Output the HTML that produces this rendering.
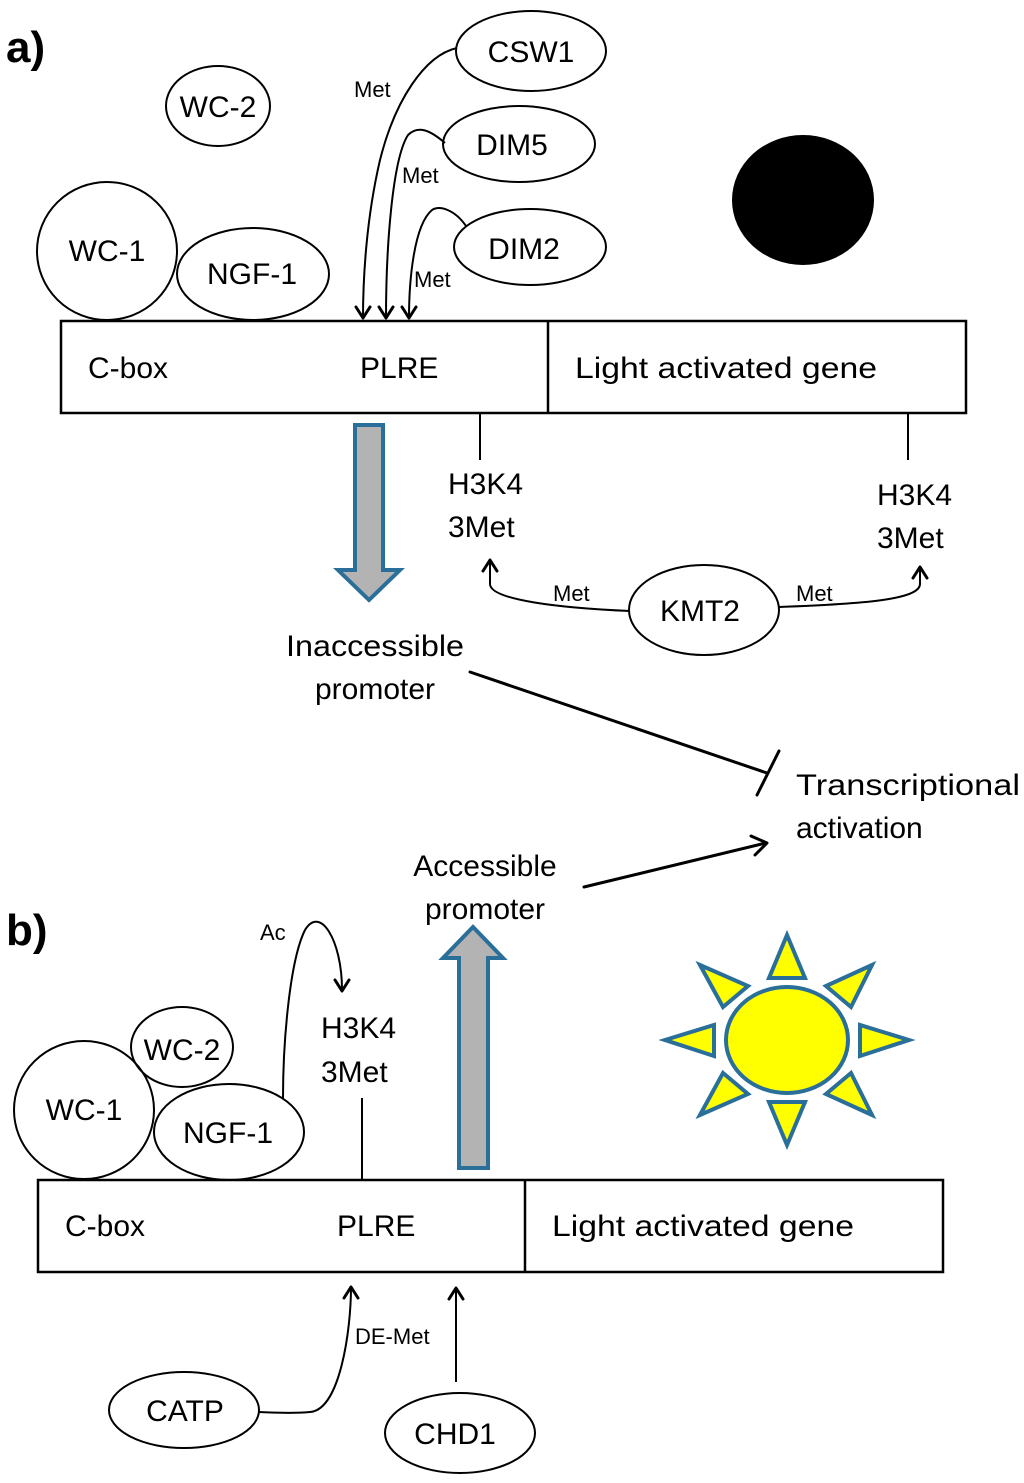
<!DOCTYPE html>
<html><head><meta charset="utf-8"><style>html,body{margin:0;padding:0;background:#fff}svg{display:block}</style></head>
<body>
<svg width="1024" height="1483" viewBox="0 0 1024 1483" xmlns="http://www.w3.org/2000/svg" font-family="Liberation Sans, sans-serif">
<g fill="#000" font-weight="bold" font-size="44">
<text x="6" y="62">a)</text>
<text x="6" y="945">b)</text>
</g>
<g fill="none" stroke="#000" stroke-width="2">
<ellipse cx="218" cy="106" rx="52" ry="40"/>
<ellipse cx="107" cy="251" rx="70" ry="69"/>
<ellipse cx="253" cy="274" rx="76" ry="46"/>
<ellipse cx="531" cy="51" rx="75" ry="40"/>
<ellipse cx="519" cy="144" rx="76" ry="38"/>
<ellipse cx="530" cy="247" rx="76" ry="38"/>
<rect x="61" y="321" width="905" height="92" stroke-width="2.5"/>
<line x1="548" y1="321" x2="548" y2="413" stroke-width="2.5"/>
<path d="M457 48 C425 55 395 100 380 160 C366 220 363 280 363 318"/>
<path d="M445 143 C430 130 418 125 408 135 C392 160 386 250 386 318"/>
<path d="M466 226 C455 210 440 205 432 210 C414 225 409 280 409 318"/>
<line x1="480" y1="413" x2="480" y2="460"/>
<line x1="908" y1="413" x2="908" y2="460"/>
<ellipse cx="704" cy="610" rx="75" ry="45"/>
<path d="M630 611 C560 608 490 600 490 584 L490 560"/>
<path d="M779 607 C860 604 920 600 920 584 L920 567"/>
<ellipse cx="84" cy="1110" rx="70" ry="69"/>
<ellipse cx="182" cy="1047" rx="51" ry="40"/>
<ellipse cx="229" cy="1132" rx="75" ry="48"/>
<path d="M283 1098 C283 1040 290 960 305 930 C320 905 342 940 342 990"/>
<line x1="362" y1="1098" x2="362" y2="1180"/>
<rect x="38" y="1180" width="905" height="92" stroke-width="2.5"/>
<line x1="525" y1="1180" x2="525" y2="1272" stroke-width="2.5"/>
<ellipse cx="184" cy="1410" rx="75" ry="38"/>
<ellipse cx="460" cy="1433" rx="75" ry="40"/>
<path d="M259 1412 C280 1413 300 1413 310 1412 C340 1410 351 1330 351 1287"/>
<line x1="456" y1="1382" x2="456" y2="1288"/>
</g>
<g fill="none" stroke="#000" stroke-width="3" stroke-linecap="round" stroke-linejoin="round">
<polyline points="356,307 363,318 370,307"/>
<polyline points="379,307 386,318 393,307"/>
<polyline points="402,307 409,318 416,307"/>
<polyline points="483,571 490,560 497,571"/>
<polyline points="913,578 920,567 927,578"/>
<polyline points="335,980 342,991 349,980"/>
<polyline points="344,1298 351,1287 358,1298"/>
<polyline points="449,1299 456,1288 463,1299"/>
<line x1="470" y1="672" x2="767" y2="773"/>
<line x1="757" y1="795" x2="779" y2="751"/>
<line x1="584" y1="887" x2="766" y2="843"/>
<polyline points="751,836 767,843 755,855"/>
</g>
<ellipse cx="803" cy="200" rx="71" ry="65" fill="#000"/>
<g fill="#b3b3b3" stroke="#2a6f9a" stroke-width="4" stroke-linejoin="miter">
<polygon points="355,425 383,425 383,570 400,570 369,600 338,570 355,570"/>
<polygon points="459,1168 488,1168 488,958 503,958 473,927 443,958 459,958"/>
</g>
<g fill="#ffff00" stroke="#2a6f9a" stroke-width="4" stroke-linejoin="miter">
<ellipse cx="787" cy="1040" rx="61" ry="53"/>
<polygon points="787,935 769,978 805,978"/>
<polygon points="787,1145 769,1102 805,1102"/>
<polygon points="665,1040 714,1025 714,1056"/>
<polygon points="909,1040 860,1025 860,1056"/>
<polygon points="700,965 748,986 723,1007"/>
<polygon points="872,965 826,986 851,1007"/>
<polygon points="700,1115 748,1094 723,1073"/>
<polygon points="872,1115 826,1094 851,1073"/>
</g>
<g fill="#000" font-size="30">
<text x="218" y="117" text-anchor="middle">WC-2</text>
<text x="107" y="261" text-anchor="middle">WC-1</text>
<text x="252" y="284" text-anchor="middle">NGF-1</text>
<text x="531" y="62" text-anchor="middle">CSW1</text>
<text x="512" y="155" text-anchor="middle">DIM5</text>
<text x="524" y="259" text-anchor="middle">DIM2</text>
<text x="88" y="378">C-box</text>
<text x="360" y="378">PLRE</text>
<text x="575" y="378" textLength="302" lengthAdjust="spacingAndGlyphs">Light activated gene</text>
<text x="448" y="494">H3K4</text>
<text x="448" y="537">3Met</text>
<text x="877" y="505">H3K4</text>
<text x="877" y="548">3Met</text>
<text x="700" y="621" text-anchor="middle">KMT2</text>
<text x="375" y="656" text-anchor="middle" textLength="178" lengthAdjust="spacingAndGlyphs">Inaccessible</text>
<text x="375" y="699" text-anchor="middle">promoter</text>
<text x="796" y="795" textLength="224" lengthAdjust="spacingAndGlyphs">Transcriptional</text>
<text x="796" y="838">activation</text>
<text x="485" y="876" text-anchor="middle">Accessible</text>
<text x="485" y="919" text-anchor="middle">promoter</text>
<text x="321" y="1038">H3K4</text>
<text x="321" y="1082">3Met</text>
<text x="182" y="1060" text-anchor="middle">WC-2</text>
<text x="84" y="1120" text-anchor="middle">WC-1</text>
<text x="228" y="1143" text-anchor="middle">NGF-1</text>
<text x="65" y="1236">C-box</text>
<text x="337" y="1236">PLRE</text>
<text x="552" y="1236" textLength="302" lengthAdjust="spacingAndGlyphs">Light activated gene</text>
<text x="185" y="1421" text-anchor="middle">CATP</text>
<text x="455" y="1444" text-anchor="middle">CHD1</text>
</g>
<g fill="#000" font-size="22">
<text x="354" y="97">Met</text>
<text x="402" y="183">Met</text>
<text x="414" y="287">Met</text>
<text x="553" y="601">Met</text>
<text x="796" y="601">Met</text>
<text x="260" y="940">Ac</text>
<text x="355" y="1344">DE-Met</text>
</g>
</svg>
</body></html>
